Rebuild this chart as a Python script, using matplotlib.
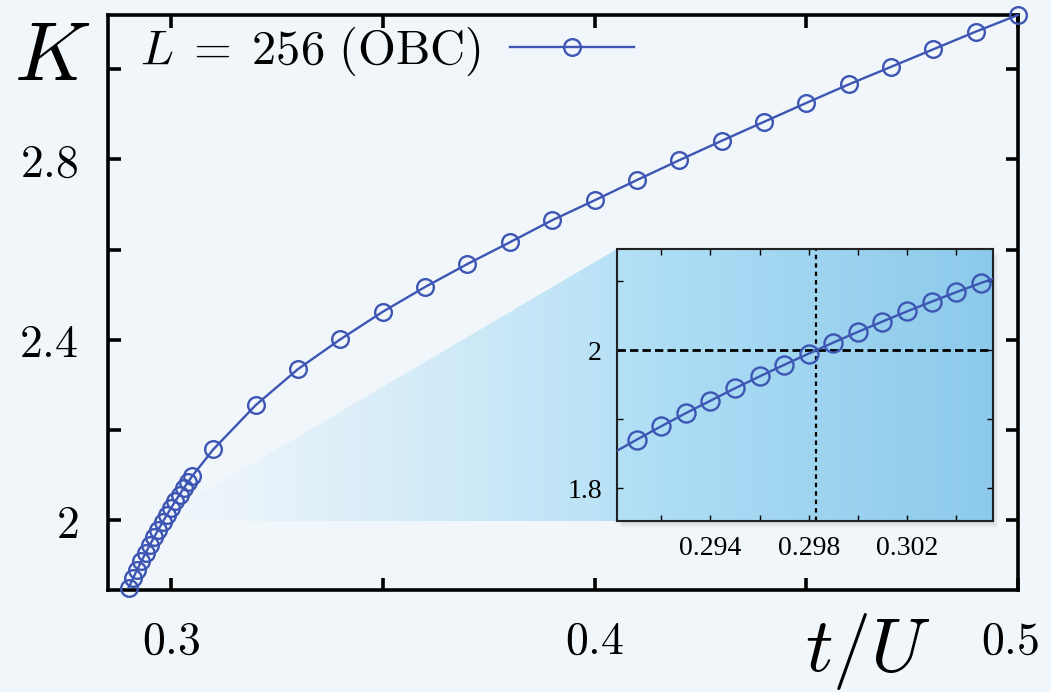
import numpy as np
import matplotlib
matplotlib.use('Agg')
import matplotlib.pyplot as plt
from matplotlib.patches import Polygon, Rectangle
from matplotlib.transforms import ScaledTranslation

plt.rcParams['mathtext.fontset'] = 'cm'

# fine scan around the transition (t/U, K)
t_fine = [0.290, 0.291, 0.292, 0.293, 0.294, 0.295, 0.296, 0.297,
          0.298, 0.299, 0.300, 0.301, 0.302, 0.303, 0.304, 0.305]
K_fine = [1.8505, 1.8705, 1.8900, 1.9090, 1.9270, 1.9450, 1.9622, 1.9790,
          1.9953, 2.0113, 2.0268, 2.0418, 2.0565, 2.0706, 2.0843, 2.0976]

# coarse scan
t_coarse = [0.31, 0.32, 0.33, 0.34, 0.35, 0.36, 0.37, 0.38, 0.39, 0.40,
            0.41, 0.42, 0.43, 0.44, 0.45, 0.46, 0.47, 0.48, 0.49, 0.50]
K_coarse = [2.157, 2.255, 2.335, 2.401, 2.462, 2.517, 2.568, 2.616, 2.665, 2.709,
            2.754, 2.798, 2.841, 2.883, 2.925, 2.966, 3.005, 3.044, 3.083, 3.120]

t_all = t_fine + t_coarse
K_all = K_fine + K_coarse

# crossing K = 2
t_c = 0.2983
K_c = 2.0

main_xticks = [0.30, 0.35, 0.40, 0.45, 0.50]
main_xlabels = [r'$0.3$', '', r'$0.4$', '', r'$0.5$']
main_yticks = [2.0, 2.2, 2.4, 2.6, 2.8, 3.0]
main_ylabels = [r'$2$', '', r'$2.4$', '', r'$2.8$', '']

inset_xticks = [0.292, 0.294, 0.296, 0.298, 0.300, 0.302, 0.304]
inset_xlabels = ['', '0.294', '', '0.298', '', '0.302', '']
inset_yticks = [1.8, 1.9, 2.0, 2.1]
inset_ylabels = ['1.8', '', '2', '']

line_color = '#3d56b3'
bg_color = '#f1f6fa'

fig = plt.figure(figsize=(10.51, 6.92), dpi=100)
fig.patch.set_facecolor(bg_color)

ax = fig.add_axes([0.1023, 0.1474, 0.8663, 0.8309])
ax.set_facecolor('none')
ax.plot(t_all, K_all, color=line_color, lw=1.7, marker='o', ms=12,
        mfc='none', mec=line_color, mew=1.7, clip_on=False, zorder=3,
        label=r'$L\;=\;256\ \mathrm{(OBC)}$')
ax.set_xlim(0.285, 0.5)
ax.set_ylim(1.845, 3.12)

ax.set_xticks(main_xticks)
ax.set_xticklabels(main_xlabels)
ax.set_yticks(main_yticks)
ax.set_yticklabels(main_ylabels)
ax.tick_params(direction='in', length=9, width=2.6, top=True, right=True,
               labelsize=33, pad=21)
for sp in ax.spines.values():
    sp.set_linewidth(2.6)

# nudge the 0.5 label left like in the original
lab = ax.get_xticklabels()[-1]
lab.set_transform(lab.get_transform() + ScaledTranslation(-8 / 100, 0, fig.dpi_scale_trans))

leg = ax.legend(loc='center left', bbox_to_anchor=(0.036, 0.937), frameon=False,
                markerfirst=False, fontsize=35, handlelength=2.55, handletextpad=0.6,
                borderpad=0, borderaxespad=0, numpoints=1)

fig.text(52 / 1051, 1 - 56 / 692, r'$K$', fontsize=60, ha='center', va='center')
fig.text(868 / 1051, 1 - 652 / 692, r'$t/U$', fontsize=55, ha='center', va='center')

# inset
ins_pos = [0.5871, 0.2471, 0.3577, 0.3931]

# soft shadow behind the inset
for i in range(1, 9):
    fig.patches.append(Rectangle((ins_pos[0] + i * 0.6 / 1051, ins_pos[1] - i * 0.9 / 692),
                                 ins_pos[2], ins_pos[3], transform=fig.transFigure,
                                 facecolor='black', alpha=0.016, edgecolor='none', zorder=1))

# zoom wedge: from near the crossing to the inset's left edge, fading in
disp = fig.transFigure.transform([(ins_pos[0], ins_pos[1]), (ins_pos[0], ins_pos[1] + ins_pos[3])])
(xl, yb), (_, yt) = ax.transData.inverted().transform(disp)
x_apex = 0.2962
wedge = Polygon([(x_apex, yb), (xl, yt), (xl, yb)], closed=True,
                transform=ax.transData, facecolor='none', edgecolor='none')
ax.add_patch(wedge)
ramp = np.linspace(0, 1, 256) ** 1.2
grad = np.zeros((2, 256, 4))
grad[..., 0] = 0.71
grad[..., 1] = 0.88
grad[..., 2] = 0.965
grad[..., 3] = ramp * 0.95
im = ax.imshow(grad, extent=[x_apex, xl, yb, yt], aspect='auto', origin='lower',
               zorder=1, interpolation='bilinear')
im.set_clip_path(wedge)
ax.set_xlim(0.285, 0.5)
ax.set_ylim(1.845, 3.12)

axin = fig.add_axes(ins_pos)
axin.set_zorder(5)
c_left = np.array([0.70, 0.88, 0.965])
c_right = np.array([0.55, 0.79, 0.92])
s = np.linspace(0, 1, 256)[None, :, None]
bg = np.repeat(c_left + (c_right - c_left) * s, 2, axis=0)
axin.imshow(bg, extent=[0, 1, 0, 1], transform=axin.transAxes, aspect='auto',
            zorder=0, interpolation='bilinear')

# markers only for the points that sit inside the inset window
axin.plot(t_all, K_all, color=line_color, lw=1.7, marker='o', ms=13,
          mfc='none', mec=line_color, mew=1.7, zorder=3,
          markevery=list(range(1, len(t_fine))))
axin.axhline(K_c, color='black', lw=2.0, ls=(0, (3.0, 1.5)), zorder=2)
axin.axvline(t_c, color='black', lw=1.6, ls=(0, (2.0, 1.8)), zorder=2)
axin.set_xlim(0.2902, 0.3055)
axin.set_ylim(1.7526, 2.147)
axin.set_xticks(inset_xticks)
axin.set_xticklabels(inset_xlabels)
axin.set_yticks(inset_yticks)
axin.set_yticklabels(inset_ylabels)
axin.tick_params(direction='in', length=4, width=1.0, top=True, right=True,
                 labelsize=20, pad=11)
for lab in axin.get_xticklabels() + axin.get_yticklabels():
    lab.set_family('Liberation Serif')
for sp in axin.spines.values():
    sp.set_linewidth(1.5)
    sp.set_color('#222222')

fig.savefig('out.png', dpi=100, facecolor=bg_color)
